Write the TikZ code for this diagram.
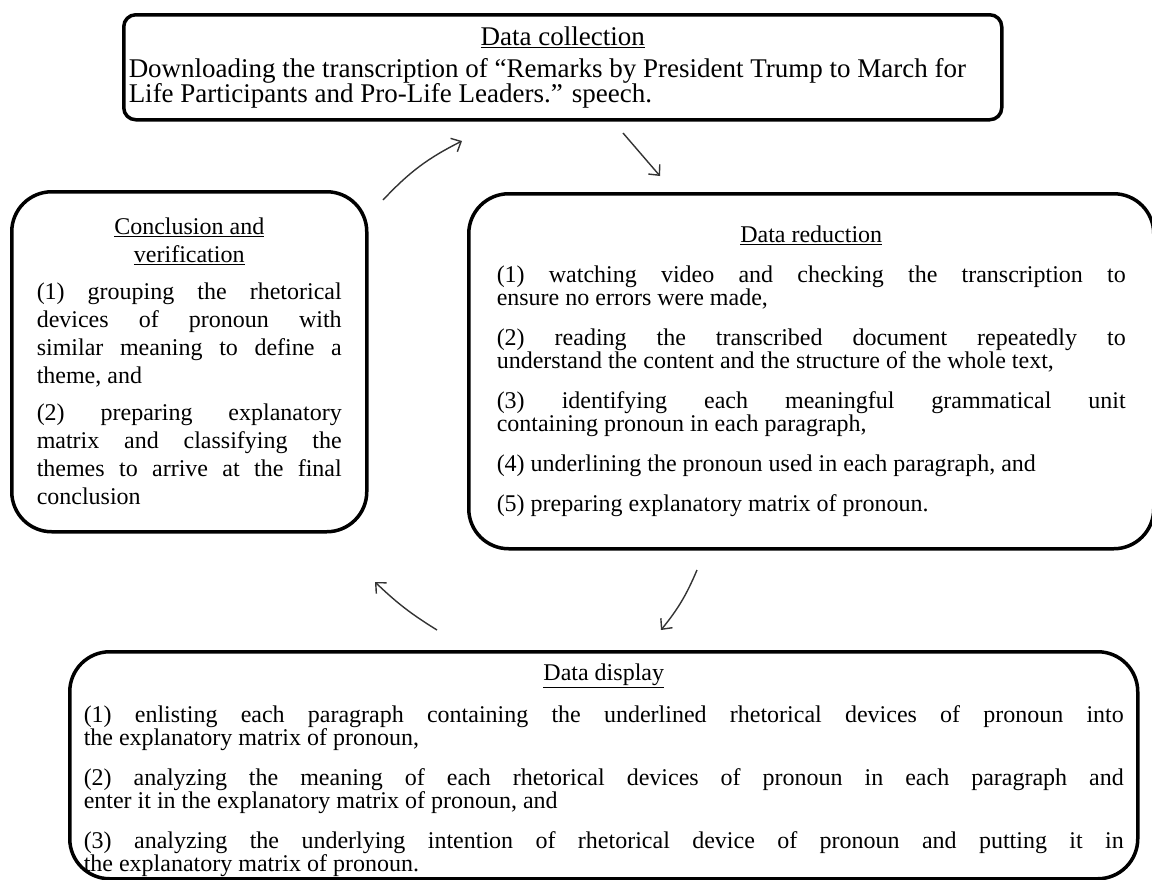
\documentclass[tikz,border=0pt]{standalone}
\usepackage{fontspec}
\setmainfont{Liberation Serif}
\usetikzlibrary{arrows,arrows.meta}
\usetikzlibrary{positioning}
\setlength{\parindent}{0pt}

\tikzset{
 frame/.style={draw,line width=3.5pt,anchor=north west,align=justify,inner sep=0pt,
   rounded corners=40pt,font=\fontsize{24}{23}\selectfont,
   execute at begin node={\setlength{\parskip}{17pt}}},
 link/.style={->,>={Straight Barb[length=8pt,width=15pt]},line width=1.4pt,black!80}
}

\begin{document}
\begin{tikzpicture}[x=1pt,y=-1pt]
 \useasboundingbox (0,0) rectangle (1152,879);
 % boxes
 \node [frame,rounded corners=12pt,text width=868pt,minimum height=105pt,inner xsep=5pt,
   font=\fontsize{27}{25}\selectfont,
   execute at begin node={\setlength{\parskip}{7pt}}] (X1) at (122,13)
  {{\centering\underline{Data collection}\par}
   \raggedright Downloading the transcription of ``Remarks by President Trump to March for\\
   Life Participants and Pro-Life Leaders.'' speech.};
 \node [frame,text width=629pt,minimum height=355pt,inner xsep=28pt] (X2) at (467,192)
  {{\centering\underline{Data reduction}\par}
   (1) watching video and checking the transcription to\linebreak ensure no errors were made,\par
   (2) reading the transcribed document repeatedly to\linebreak understand the content and the structure of the whole text,\par
   (3) identifying each meaningful grammatical unit\linebreak containing pronoun in each paragraph,\par
   (4) underlining the pronoun used in each paragraph, and\par
   (5) preparing explanatory matrix of pronoun.};
 \node [frame,text width=1040pt,minimum height=227pt,inner xsep=14pt] (X3) at (68,650)
  {{\centering\rule{0pt}{26pt}\underline{Data display}\par}
   (1) enlisting each paragraph containing the underlined rhetorical devices of pronoun into\linebreak the explanatory matrix of pronoun,\par
   (2) analyzing the meaning of each rhetorical devices of pronoun in each paragraph and\linebreak enter it in the explanatory matrix of pronoun, and\par
   (3) analyzing the underlying intention of rhetorical device of pronoun and putting it in\linebreak the explanatory matrix of pronoun.};
 \node [frame,text width=305pt,minimum height=340pt,inner xsep=25pt,
   font=\fontsize{24}{28}\selectfont,
   execute at begin node={\setlength{\parskip}{9pt}}] (X4) at (10,190)
  {{\centering\underline{Conclusion and}\\\underline{verification}\par}
   (1) grouping the rhetorical\linebreak devices of pronoun with\linebreak similar meaning to define a\linebreak theme, and\par
   (2) preparing explanatory\linebreak matrix and classifying the\linebreak themes to arrive at the final\linebreak conclusion};
 % arrows
 \coordinate (A1) at (383,200);
 \coordinate (B1) at (462,141);
 \coordinate (A2) at (623,133);
 \coordinate (B2) at (660,176);
 \coordinate (A3) at (697,570);
 \coordinate (B3) at (661,630);
 \coordinate (A4) at (437,630);
 \coordinate (B4) at (375,582);
 \draw [link] (A1) to [bend left=10] (B1);
 \draw [link] (A2) -- (B2);
 \draw [link] (A3) to [bend left=8] (B3);
 \draw [link] (A4) to [bend left=6] (B4);
\end{tikzpicture}
\end{document}
